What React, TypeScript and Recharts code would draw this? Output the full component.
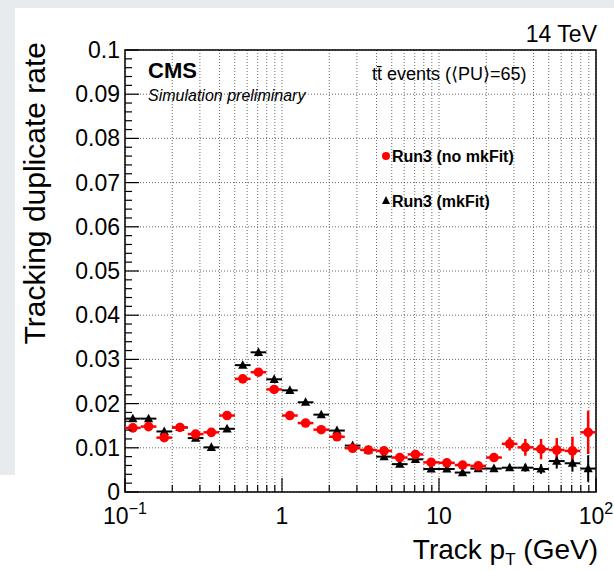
// Tracking duplicate rate vs track pT — CMS-style log-x plot with error bars.
import { ScatterChart, Scatter, XAxis, YAxis, CartesianGrid, ErrorBar, ReferenceArea } from "recharts";

// 30 log bins, 0.1 decade each, from 0.1 to 100 GeV
const binEdges = [
  0.1, 0.1259, 0.1585, 0.1995, 0.2512, 0.3162, 0.3981, 0.5012, 0.631, 0.7943,
  1, 1.259, 1.585, 1.995, 2.512, 3.162, 3.981, 5.012, 6.31, 7.943,
  10, 12.59, 15.85, 19.95, 25.12, 31.62, 39.81, 50.12, 63.1, 79.43, 100,
];
const binCenters = [
  0.1122, 0.1413, 0.1778, 0.2239, 0.2818, 0.3548, 0.4467, 0.5623, 0.7079, 0.8913,
  1.122, 1.413, 1.778, 2.239, 2.818, 3.548, 4.467, 5.623, 7.079, 8.913,
  11.22, 14.13, 17.78, 22.39, 28.18, 35.48, 44.67, 56.23, 70.79, 89.13,
];

const noMkFit = [
  0.0145, 0.0148, 0.0123, 0.0146, 0.0131, 0.0135, 0.0173, 0.0256, 0.0271, 0.0232,
  0.0173, 0.0156, 0.0141, 0.0125, 0.0099, 0.0095, 0.0093, 0.0078, 0.0085, 0.0067,
  0.0066, 0.0061, 0.0059, 0.0078, 0.0109, 0.0101, 0.0097, 0.0095, 0.0093, 0.0135,
];
const noMkFitErr = [
  0.0004, 0.0004, 0.0004, 0.0004, 0.0004, 0.0004, 0.0004, 0.0004, 0.0004, 0.0004,
  0.0003, 0.0003, 0.0003, 0.0003, 0.0003, 0.0003, 0.0004, 0.0004, 0.0004, 0.0005,
  0.0005, 0.0005, 0.0006, 0.0007, 0.0015, 0.0019, 0.0023, 0.0027, 0.0032, 0.0049,
];
const mkFit = [
  0.0166, 0.0166, 0.0137, 0.0146, 0.0122, 0.0101, 0.0143, 0.0287, 0.0316, 0.0255,
  0.023, 0.0203, 0.0175, 0.0139, 0.0105, 0.0095, 0.008, 0.0063, 0.0074, 0.0052,
  0.0052, 0.0044, 0.0053, 0.0053, 0.0055, 0.0055, 0.0052, 0.007, 0.0065, 0.0053,
];
const mkFitErr = [
  0.0004, 0.0004, 0.0004, 0.0004, 0.0004, 0.0004, 0.0004, 0.0004, 0.0004, 0.0004,
  0.0003, 0.0003, 0.0003, 0.0003, 0.0003, 0.0003, 0.0003, 0.0004, 0.0004, 0.0004,
  0.0004, 0.0004, 0.0005, 0.0005, 0.0007, 0.0009, 0.0011, 0.0017, 0.0019, 0.003,
];

const xTicks = [
  0.1, 0.2, 0.3, 0.4, 0.5, 0.6, 0.7, 0.8, 0.9,
  1, 2, 3, 4, 5, 6, 7, 8, 9,
  10, 20, 30, 40, 50, 60, 70, 80, 90, 100,
];
const xDecades = [0.1, 1, 10, 100];
const yTicks = [
  0, 0.002, 0.004, 0.006, 0.008, 0.01, 0.012, 0.014, 0.016, 0.018,
  0.02, 0.022, 0.024, 0.026, 0.028, 0.03, 0.032, 0.034, 0.036, 0.038,
  0.04, 0.042, 0.044, 0.046, 0.048, 0.05, 0.052, 0.054, 0.056, 0.058,
  0.06, 0.062, 0.064, 0.066, 0.068, 0.07, 0.072, 0.074, 0.076, 0.078,
  0.08, 0.082, 0.084, 0.086, 0.088, 0.09, 0.092, 0.094, 0.096, 0.098, 0.1,
];
const yMajor = [0, 0.01, 0.02, 0.03, 0.04, 0.05, 0.06, 0.07, 0.08, 0.09, 0.1];

const FONT = "'Liberation Sans', Arial, Helvetica, sans-serif";

// x error = bin edges around the centre, y error = statistical error
const makeRows = (vals: number[], errs: number[]) =>
  binCenters.map((c, i) => ({
    x: c,
    y: vals[i],
    xErr: [c - binEdges[i], binEdges[i + 1] - c],
    yErr: errs[i],
  }));

const redRows = makeRows(noMkFit, noMkFitErr);
const blackRows = makeRows(mkFit, mkFitErr);

const RedDot = (p: any) => <circle cx={p.cx} cy={p.cy} r={4.8} fill="#ff0000" />;
const BlackTri = (p: any) => (
  <polygon
    points={`${p.cx},${p.cy - 5} ${p.cx + 4.6},${p.cy + 3.6} ${p.cx - 4.6},${p.cy + 3.6}`}
    fill="#000"
  />
);

function XTick(props: any) {
  const { x, y, payload } = props;
  const v = payload.value;
  const major = xDecades.includes(v);
  let label: any = null;
  if (v === 0.1)
    label = (
      <>
        10<tspan dy={-10} fontSize={16}>−1</tspan>
      </>
    );
  else if (v === 1) label = "1";
  else if (v === 10) label = "10";
  else if (v === 100)
    label = (
      <>
        10<tspan dy={-10} fontSize={16}>2</tspan>
      </>
    );
  return (
    <g>
      <line x1={x} x2={x} y1={y} y2={y - (major ? 14 : 7)} stroke="#000" strokeWidth={1.2} />
      {label !== null && (
        <text x={x} y={y + 32} textAnchor="middle" fontSize={23} fontFamily={FONT} fill="#000">
          {label}
        </text>
      )}
    </g>
  );
}

function YTick(props: any) {
  const { x, y, payload } = props;
  const v = payload.value;
  const major = Math.abs(v * 100 - Math.round(v * 100)) < 1e-6;
  const text = v === 0 ? "0" : v.toFixed(2).replace(/0$/, "");
  return (
    <g>
      <line x1={x} x2={x + (major ? 14 : 7)} y1={y} y2={y} stroke="#000" strokeWidth={1.2} />
      {major && (
        <text x={x - 5} y={y + 8} textAnchor="end" fontSize={23} fontFamily={FONT} fill="#000">
          {text}
        </text>
      )}
    </g>
  );
}

export default function App() {
  return (
    <div style={{ position: "absolute", left: 0, top: 0, width: 614, height: 571, background: "#e8ebee", overflow: "hidden" }}>
      <div style={{ position: "absolute", left: 15, top: 8, width: 599, height: 563, background: "#fff" }} />
      <div style={{ position: "absolute", left: 0, top: 475, width: 15, height: 96, background: "#fff" }} />
      <div style={{ position: "absolute", left: 0, top: 0 }}>
        <ScatterChart width={614} height={571} margin={{ top: 50, right: 18, bottom: 78, left: 124 }}>
          <CartesianGrid
            stroke="#444"
            strokeWidth={0.8}
            strokeDasharray="1 2"
            verticalValues={xTicks}
            horizontalValues={yMajor}
          />
          <XAxis
            type="number"
            dataKey="x"
            scale="log"
            domain={[0.1, 100]}
            allowDataOverflow
            ticks={xTicks}
            interval={0}
            height={1}
            tickSize={0}
            tickMargin={0}
            axisLine={false}
            tickLine={false}
            tick={<XTick />}
          />
          <YAxis
            type="number"
            dataKey="y"
            domain={[0, 0.1]}
            allowDataOverflow
            ticks={yTicks}
            interval={0}
            width={1}
            tickSize={0}
            tickMargin={0}
            axisLine={false}
            tickLine={false}
            tick={<YTick />}
          />
          <ReferenceArea x1={0.1} x2={100} y1={0} y2={0.1} fill="none" stroke="#000" strokeWidth={1.5} />
          <Scatter data={blackRows} shape={BlackTri} isAnimationActive={false}>
            <ErrorBar dataKey="xErr" direction="x" width={0} stroke="#000" strokeWidth={2} isAnimationActive={false} />
            <ErrorBar dataKey="yErr" direction="y" width={0} stroke="#000" strokeWidth={2} isAnimationActive={false} />
          </Scatter>
          <Scatter data={redRows} shape={RedDot} isAnimationActive={false}>
            <ErrorBar dataKey="xErr" direction="x" width={0} stroke="#ff0000" strokeWidth={2.5} isAnimationActive={false} />
            <ErrorBar dataKey="yErr" direction="y" width={0} stroke="#ff0000" strokeWidth={2.5} isAnimationActive={false} />
          </Scatter>
        </ScatterChart>
      </div>
      {/* titles, labels and legend */}
      <svg width={614} height={571} style={{ position: "absolute", left: 0, top: 0, pointerEvents: "none" }} fontFamily={FONT}>
        <text x={597} y={42} textAnchor="end" fontSize={23} fill="#000">14 TeV</text>
        <text x={148} y={78} fontSize={22} fontWeight="bold" fill="#000">CMS</text>
        <text x={148} y={101} fontSize={16} fontStyle="italic" fill="#000">Simulation preliminary</text>
        <text x={372} y={80} fontSize={18} fill="#000">{"tt\u0304 events (\u27E8PU\u27E9=65)"}</text>
        <circle cx={386} cy={156} r={4} fill="#ff0000" />
        <text x={392} y={162} fontSize={16} fontWeight="bold" fill="#000">Run3 (no mkFit)</text>
        <polygon points="386,196 390,204 382,204" fill="#000" />
        <text x={392} y={207} fontSize={16} fontWeight="bold" fill="#000">Run3 (mkFit)</text>
        <text x={598} y={559} textAnchor="end" fontSize={28} fill="#000">
          Track p<tspan dy={6} fontSize={17}>T</tspan>
          <tspan dy={-6}>{" (GeV)"}</tspan>
        </text>
        <text transform="translate(45, 42) rotate(-90)" textAnchor="end" fontSize={30} fill="#000">
          Tracking duplicate rate
        </text>
      </svg>
    </div>
  );
}
